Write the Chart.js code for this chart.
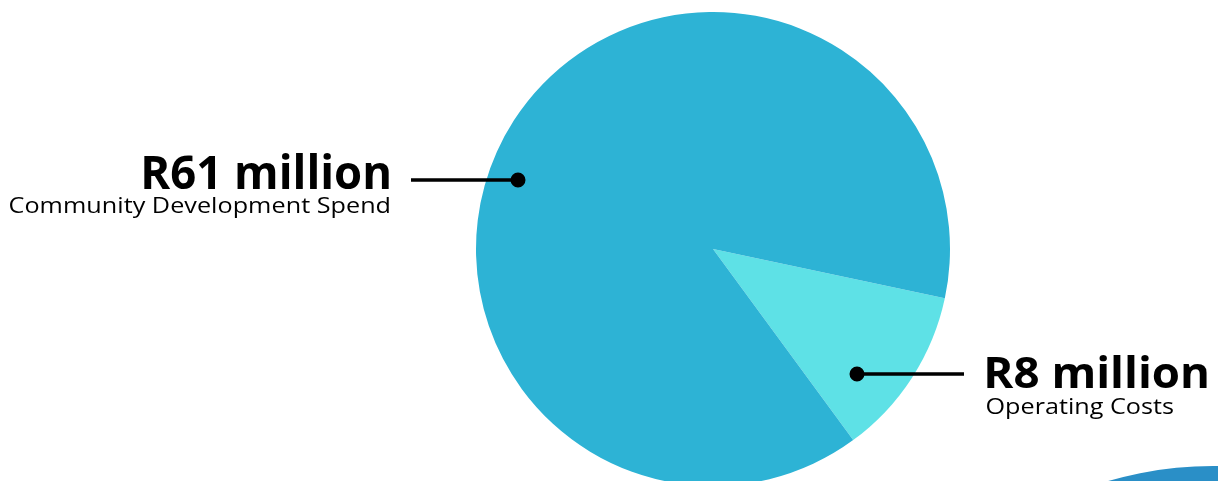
<!DOCTYPE html>
<html>
<head>
<meta charset="utf-8">
<script src="https://cdn.jsdelivr.net/npm/chart.js@4/dist/chart.umd.min.js"></script>
<style>
  html, body { margin: 0; padding: 0; background: #ffffff; overflow: hidden; }
  #wrap { position: relative; width: 1218px; height: 500px; }
</style>
</head>
<body>
<div id="wrap"><canvas id="c" width="1218" height="500"></canvas></div>
<script>
// ---- data ----
const categories = ['Operating Costs', 'Community Development Spend'];
const values = [8, 61];
const valueLabels = ['R8 million', 'R61 million'];

// ---- styles ----
const sliceColors = ['#5ee1e6', '#2db3d5'];
const FONT = '"Open Sans", Lato, "Noto Sans", sans-serif';

// draw text scaled to a target width and cap height
function drawFitted(ctx, text, weight, x, baseline, targetWidth, capHeight, align) {
  ctx.save();
  ctx.font = weight + ' 100px ' + FONT;
  ctx.textAlign = 'left';
  ctx.textBaseline = 'alphabetic';
  const m = ctx.measureText(text);
  const w = m.actualBoundingBoxRight + m.actualBoundingBoxLeft;
  const cap = ctx.measureText('H').actualBoundingBoxAscent;
  const sx = targetWidth / w, sy = capHeight / cap;
  const left = align === 'right' ? x - targetWidth : x;
  ctx.translate(left, baseline);
  ctx.scale(sx, sy);
  ctx.fillText(text, m.actualBoundingBoxLeft, 0);
  ctx.restore();
}

const labelPlugin = {
  id: 'labels',
  beforeDraw(chart) {
    const ctx = chart.ctx;
    ctx.save();
    // decorative arc at bottom right
    ctx.fillStyle = '#2a8fc7';
    ctx.beginPath();
    ctx.arc(1213, 840, 374, 0, Math.PI * 2);
    ctx.fill();
    ctx.restore();
  },
  afterDraw(chart) {
    const ctx = chart.ctx;
    ctx.save();
    ctx.fillStyle = '#000';
    ctx.strokeStyle = '#000';

    // left label (Community Development Spend)
    drawFitted(ctx, valueLabels[1], 'bold', 389, 188.5, 245, 33, 'right');
    drawFitted(ctx, categories[1], 'normal', 389, 213, 379, 16.5, 'right');

    // right label (Operating Costs)
    drawFitted(ctx, valueLabels[0], 'bold', 987, 388, 220, 31.5, 'left');
    drawFitted(ctx, categories[0], 'normal', 987, 414, 186, 16.5, 'left');

    // leader lines
    ctx.lineWidth = 3.5;
    ctx.beginPath();
    ctx.moveTo(411, 180); ctx.lineTo(518, 180);
    ctx.moveTo(857, 374); ctx.lineTo(964, 374);
    ctx.stroke();
    ctx.beginPath();
    ctx.arc(518, 180, 7.5, 0, Math.PI * 2);
    ctx.arc(857, 374, 7.5, 0, Math.PI * 2);
    ctx.fill();
    ctx.restore();
  }
};

new Chart(document.getElementById('c'), {
  type: 'pie',
  data: {
    labels: categories,
    datasets: [{
      data: values,
      backgroundColor: sliceColors,
      borderWidth: 0,
      hoverOffset: 0
    }]
  },
  options: {
    responsive: false,
    animation: false,
    rotation: 102,
    events: [],
    layout: { padding: { left: 476, right: 268, top: 12, bottom: 14 } },
    plugins: {
      legend: { display: false },
      tooltip: { enabled: false }
    }
  },
  plugins: [labelPlugin]
});
</script>
</body>
</html>
